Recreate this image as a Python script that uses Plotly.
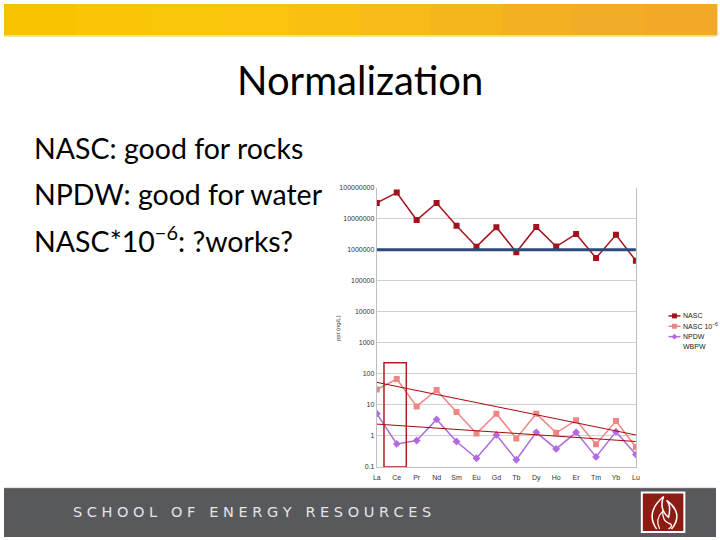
import plotly.graph_objects as go

W, H = 720, 540

elements = ["La", "Ce", "Pr", "Nd", "Sm", "Eu", "Gd", "Tb", "Dy", "Ho", "Er", "Tm", "Yb", "Lu"]
nasc = [3.2e7, 6.9e7, 9.0e6, 3.2e7, 5.9e6, 1.25e6, 5.3e6, 8.3e5, 5.4e6, 1.26e6, 3.2e6, 5.4e5, 3.0e6, 4.4e5]
nasc_scaled = [31, 68, 8.9, 30, 5.9, 1.2, 5.2, 0.83, 5.2, 1.26, 3.2, 0.54, 3.0, 0.44]
npdw = [5.2, 0.55, 0.71, 3.4, 0.66, 0.19, 1.07, 0.17, 1.3, 0.38, 1.3, 0.21, 1.37, 0.25]
wbpw = [1.0e6] * len(elements)
trend_x = ["La", "Lu"]
trend_nasc_scaled = [53, 1.07]
trend_npdw = [2.4, 0.66]

ytick_vals = [0.1, 1, 10, 100, 1000, 10000, 100000, 1000000, 10000000, 100000000]
ytick_text = ["0.1", "1", "10", "100", "1000", "10000", "100000", "1000000", "10000000", "100000000"]

bullets = ["NASC: good for rocks", "NPDW: good for water", "NASC*10<sup>\u22126</sup>: ?works?"]
legend_names = ["NASC", "NASC 10<sup>\u22126</sup>", "NPDW", "WBPW"]

C_NASC = "#a3121c"
C_PINK = "#ef8585"
C_NPDW = "#b36ae0"
C_TREND = "#a50a0a"
C_WBPW = "#2a4a78"

def px(x):
    return x / W

def py(y):
    return 1 - y / H

fig = go.Figure()

fig.add_trace(go.Scatter(x=elements, y=nasc, mode="lines+markers", name="NASC",
                         line=dict(color=C_NASC, width=1.5),
                         marker=dict(symbol="square", size=6, color=C_NASC)))
fig.add_trace(go.Scatter(x=elements, y=nasc_scaled, mode="lines+markers", name="NASC 10^-6",
                         line=dict(color=C_PINK, width=1.5),
                         marker=dict(symbol="square", size=6, color=C_PINK)))
fig.add_trace(go.Scatter(x=elements, y=npdw, mode="lines+markers", name="NPDW",
                         line=dict(color=C_NPDW, width=1.5),
                         marker=dict(symbol="diamond", size=6, color=C_NPDW)))
fig.add_trace(go.Scatter(x=elements, y=wbpw, mode="lines", name="WBPW",
                         line=dict(color=C_WBPW, width=3)))
fig.add_trace(go.Scatter(x=trend_x, y=trend_nasc_scaled, mode="lines", name="trend NASC 10^-6",
                         line=dict(color=C_TREND, width=1)))
fig.add_trace(go.Scatter(x=trend_x, y=trend_npdw, mode="lines", name="trend NPDW",
                         line=dict(color=C_TREND, width=1)))

shapes = []
annotations = []

# top banner gradient
banner_cols = ["#f7c200", "#f9c504", "#fac60a", "#fbc50e", "#f9c012", "#f7ba18",
               "#f5b51d", "#f4b021", "#f3ac25", "#f2a928"]
n = len(banner_cols)
for i, c in enumerate(banner_cols):
    shapes.append(dict(type="rect", xref="paper", yref="paper",
                       x0=i / n, x1=(i + 1) / n + 0.002, y0=py(32), y1=1,
                       fillcolor=c, line=dict(width=0), layer="below"))
shapes.append(dict(type="line", xref="paper", yref="paper", x0=0, x1=1, y0=py(32.5), y1=py(32.5),
                   line=dict(color="#f3dc8c", width=1.5)))

# footer
shapes.append(dict(type="rect", xref="paper", yref="paper", x0=0, x1=1, y0=0, y1=py(490),
                   fillcolor="#58595d", line=dict(width=0), layer="below"))
shapes.append(dict(type="line", xref="paper", yref="paper", x0=0, x1=1, y0=py(490), y1=py(490),
                   line=dict(color="#e8e8e8", width=1)))
# logo
shapes.append(dict(type="rect", xref="paper", yref="paper", x0=px(645), x1=px(688), y0=py(535), y1=py(495),
                   fillcolor="#8e1b12", line=dict(color="#ffffff", width=2)))
shapes.append(dict(type="path", xref="paper", yref="paper",
                   path=f"M {px(660)} {py(532)} Q {px(648)} {py(515)} {px(667)} {py(499)} Q {px(662)} {py(512)} {px(672)} {py(520)} Q {px(675)} {py(508)} {px(670)} {py(503)} Q {px(688)} {py(516)} {px(675)} {py(532)}",
                   line=dict(color="#ffffff", width=1.5)))
shapes.append(dict(type="path", xref="paper", yref="paper",
                   path=f"M {px(663)} {py(532)} Q {px(658)} {py(522)} {px(666)} {py(514)} Q {px(666)} {py(524)} {px(672)} {py(526)} Q {px(678)} {py(528)} {px(672)} {py(532)}",
                   line=dict(color="#ffffff", width=1.2)))

# highlight box around Ce
shapes.append(dict(type="rect", xref="x", yref="y", x0=0.36, x1=1.48, y0=0.1, y1=229,
                   line=dict(color="#b01e1e", width=1.5)))

# manual legend
leg_y = [316, 326.5, 337, 347.5]
leg_cols = [C_NASC, C_PINK, C_NPDW, None]
leg_sym = ["square", "square", "diamond", None]
for yy, col, sym, name in zip(leg_y, leg_cols, leg_sym, legend_names):
    if col is not None:
        shapes.append(dict(type="line", xref="paper", yref="paper", x0=px(672), x1=px(684),
                           y0=py(yy), y1=py(yy), line=dict(color=col, width=1.5)))
        if sym == "square":
            shapes.append(dict(type="rect", xref="paper", yref="paper", x0=px(675.5), x1=px(680.5),
                               y0=py(yy + 2.5), y1=py(yy - 2.5), fillcolor=col, line=dict(width=0)))
        else:
            shapes.append(dict(type="path", xref="paper", yref="paper",
                               path=f"M {px(678)} {py(yy-3)} L {px(681)} {py(yy)} L {px(678)} {py(yy+3)} L {px(675)} {py(yy)} Z",
                               fillcolor=col, line=dict(width=0)))
    annotations.append(dict(xref="paper", yref="paper", x=px(684.5), y=py(yy), text=name,
                            showarrow=False, xanchor="left", yanchor="middle",
                            font=dict(family="Liberation Sans", size=7, color="#222222")))

# title and bullets
annotations.append(dict(xref="paper", yref="paper", x=0.5, y=py(77), text="Normalization",
                        showarrow=False, xanchor="center", yanchor="middle",
                        font=dict(family="Lato", size=40, color="#000000")))
for i, t in enumerate(bullets):
    annotations.append(dict(xref="paper", yref="paper", x=px(28), y=py(146 + 46 * i), text=t,
                            showarrow=False, xanchor="left", yanchor="middle",
                            font=dict(family="Lato", size=28.5, color="#000000")))

# y axis title
annotations.append(dict(xref="paper", yref="paper", x=px(338), y=py(328), text="ppt (ng/L)",
                        showarrow=False, textangle=-90, xanchor="center", yanchor="middle",
                        font=dict(family="Liberation Sans", size=6, color="#333333")))

# footer text
annotations.append(dict(xref="paper", yref="paper", x=px(68), y=py(515),
                        text="S C H O O L &nbsp; O F &nbsp; E N E R G Y &nbsp; R E S O U R C E S",
                        showarrow=False, xanchor="left", yanchor="middle",
                        font=dict(family="DejaVu Sans", size=14.5, color="#e4e4e4")))

fig.update_layout(
    width=W, height=H,
    margin=dict(l=0, r=0, t=0, b=0),
    paper_bgcolor="#ffffff", plot_bgcolor="#ffffff",
    showlegend=False,
    shapes=shapes, annotations=annotations,
    xaxis=dict(domain=[px(377), px(639)], type="category", range=[0, 13],
               showgrid=False, showline=True, linecolor="#bfbfbf", linewidth=1,
               ticks="", ticklabelstandoff=4,
               tickfont=dict(family="Liberation Sans", size=7, color="#333333"),
               fixedrange=True),
    yaxis=dict(domain=[py(469), py(186)], type="log", range=[-1, 8],
               tickvals=ytick_vals, ticktext=ytick_text,
               showgrid=True, gridcolor="#d0d0d0", gridwidth=1,
               showline=True, mirror=True, linecolor="#bfbfbf", linewidth=1,
               ticks="", zeroline=False,
               tickfont=dict(family="Liberation Sans", size=7, color="#333333"),
               fixedrange=True),
)

fig.write_html("out.html")
